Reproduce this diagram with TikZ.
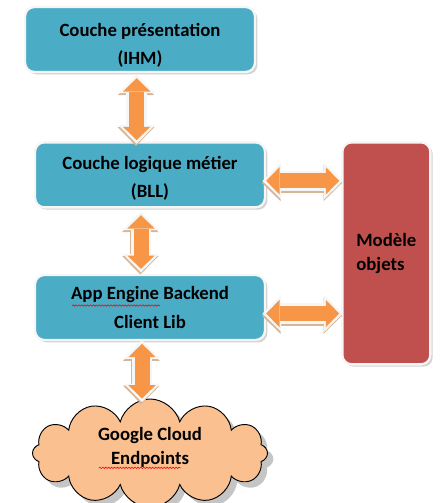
\documentclass[tikz,border=0pt]{standalone}
\usepackage{fontspec}
\setmainfont{Carlito}
\usetikzlibrary{shapes.geometric,shapes.symbols,arrows.meta,positioning,shadows,calc,
                decorations.pathmorphing}
\definecolor{cAqua}{RGB}{75,172,198}
\definecolor{cBrick}{RGB}{192,80,77}
\definecolor{cOrange}{RGB}{247,150,70}
\definecolor{cPeach}{RGB}{250,192,144}
\definecolor{cRim}{RGB}{246,246,246}
\definecolor{cTan}{RGB}{214,182,150}
\tikzset{
  basebox/.style={rectangle,rounded corners=8pt,draw=cRim,line width=2pt,
                  align=center,font=\bfseries\fontsize{16}{24}\selectfont,
                  drop shadow={shadow xshift=2pt,shadow yshift=-2pt,fill=black!35}},
  layernode/.style={basebox,fill=cAqua,minimum width=6.9cm,minimum height=1.95cm},
  modelnode/.style={basebox,fill=cBrick,minimum width=2.64cm,minimum height=6.66cm,
                    align=left,font=\bfseries\fontsize{16}{21}\selectfont},
  cloudnode/.style={cloud,cloud puffs=12,cloud ignores aspect,draw=black,line width=0.8pt,
                    fill=cPeach,minimum width=7.05cm,minimum height=3.25cm,
                    drop shadow={shadow xshift=5pt,shadow yshift=-5pt,fill=black!45}},
  cloudtext/.style={align=center,font=\bfseries\fontsize{16}{20}\selectfont},
  blkarr/.style={draw=cOrange,line width=0.45cm,
    {Triangle[length=0.4cm,width=0.82cm,line width=0pt]}-{Triangle[length=0.4cm,width=0.82cm,line width=0pt]},
    preaction={draw=cTan,line width=0.62cm,transform canvas={shift={(-0.02cm,-0.06cm)}},
      {Triangle[length=0.56cm,width=1.1cm,line width=0pt]}-{Triangle[length=0.56cm,width=1.1cm,line width=0pt]},
      shorten <=-0.11cm,shorten >=-0.11cm},
    preaction={draw=cRim,line width=0.62cm,
      {Triangle[length=0.56cm,width=1.1cm,line width=0pt]}-{Triangle[length=0.56cm,width=1.1cm,line width=0pt]},
      shorten <=-0.11cm,shorten >=-0.11cm}},
  spellwave/.style={draw=red,line width=0.5pt,decorate,
                    decoration={snake,amplitude=0.6pt,segment length=2.5pt}}
}
\begin{document}
\begin{tikzpicture}
  \useasboundingbox (0,0) rectangle (13.29,-15.09);
  \node[layernode] (ihm) at (4.2,-1.185)
      {\rule{0pt}{0.76cm}Couche présentation\\(IHM)};
  \node[layernode,below=2.04cm of ihm,xshift=0.3cm] (bll)
      {\rule{0pt}{0.6cm}Couche logique métier\\(BLL)};
  \node[layernode,below=1.96cm of bll] (lib)
      {App Engine Backend\\Client Lib};
  \node[modelnode,anchor=north west] (modele) at ([xshift=2.25cm]bll.north east)
      {Modèle\\objets};
  \node[cloudnode,below=1.72cm of lib,
        label={[cloudtext,yshift=0.17cm]center:Google Cloud\\Endpoints}] (cloud) {};

  \draw[blkarr] ([xshift=-0.1cm,yshift=-0.15cm]ihm.south)
      -- ([xshift=-0.1cm,yshift=0.03cm]ihm.south |- bll.north);
  \draw[blkarr] ([xshift=-0.27cm,yshift=-0.2cm]bll.south)
      -- ([xshift=-0.27cm,yshift=0.15cm]bll.south |- lib.north);
  \draw[blkarr] ([xshift=-0.24cm,yshift=-0.08cm]lib.south)
      -- ([xshift=-0.24cm]lib.south |- cloud.north);
  \draw[blkarr] ([yshift=-0.18cm]bll.east)
      -- ([xshift=-0.06cm,yshift=-0.18cm]bll.east -| modele.west);
  \draw[blkarr] ([yshift=-0.18cm]lib.east)
      -- ([xshift=-0.06cm,yshift=-0.18cm]lib.east -| modele.west);

  % spelling marks
  \draw[spellwave] ([xshift=-1.53cm,yshift=-0.44cm]cloud.center)
      -- ([xshift=0.93cm,yshift=-0.44cm]cloud.center);
  \draw[spellwave] ([xshift=-2.34cm,yshift=0.06cm]lib.center)
      -- ([xshift=0.3cm,yshift=0.06cm]lib.center);
\end{tikzpicture}
\end{document}
